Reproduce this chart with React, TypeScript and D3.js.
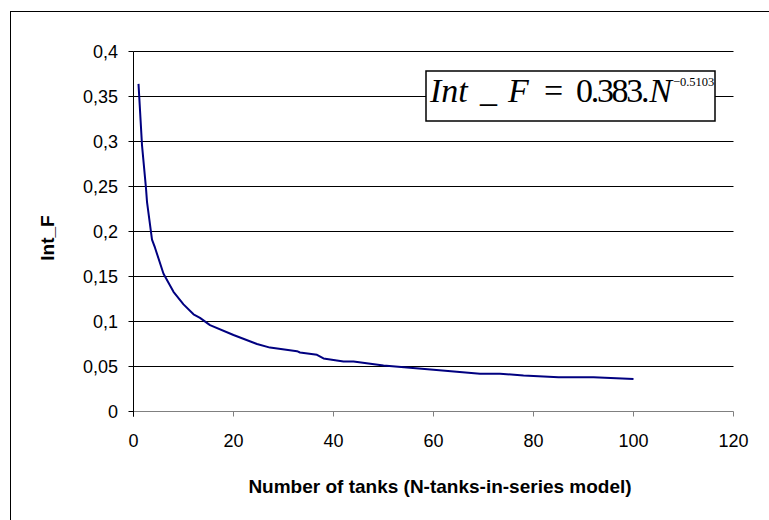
import React from "react";
import * as d3 from "d3";

const N_TANKS = [1, 1.7, 2.5, 2.7, 3.7, 4.3, 6, 8, 10, 12, 13.3, 15.3, 20, 24.7, 27.3, 32.7, 33.3, 36.7, 38, 42, 44, 50, 60, 69.3, 73.3, 78, 85, 92, 100];
const INT_F = [0.364, 0.296, 0.248, 0.233, 0.191, 0.182, 0.153, 0.133, 0.119, 0.108, 0.104, 0.096, 0.085, 0.075, 0.071, 0.067, 0.0656, 0.063, 0.059, 0.0556, 0.0556, 0.051, 0.0463, 0.042, 0.042, 0.04, 0.038, 0.038, 0.036];
const X_TICKS = [0, 20, 40, 60, 80, 100, 120];
const Y_TICKS = [0, 0.05, 0.1, 0.15, 0.2, 0.25, 0.3, 0.35, 0.4];
const X_TITLE = "Number of tanks (N-tanks-in-series model)";
const Y_TITLE = "Int_F";

const W = 769;
const H = 520;
const L = 133.5;
const R = 733.5;
const T = 51.5;
const B = 411.5;

export default function App() {
  const x = d3.scaleLinear().domain([0, 120]).range([L, R]);
  const y = d3.scaleLinear().domain([0, 0.4]).range([B, T]);
  const pts = N_TANKS.map((n, i) => [n, INT_F[i]] as [number, number]);
  const line = d3.line<[number, number]>().x((d) => x(d[0])).y((d) => y(d[1]));
  const fmt = (v: number) => (v === 0 ? "0" : String(+v.toFixed(2)).replace(".", ","));
  const sans = "'Liberation Sans', Arial, sans-serif";
  const serif = "'Liberation Serif', 'Times New Roman', serif";

  return (
    <div style={{ position: "fixed", left: 0, top: 0 }}>
      <svg width={W} height={H} style={{ display: "block", background: "#fff" }}>
        <rect x={10.5} y={11.5} width={900} height={700} fill="#fff" stroke="#000" strokeWidth={1} />
        {Y_TICKS.map((t) => (
          <g key={"y" + t}>
            {t > 0 && <line x1={L} x2={R} y1={y(t)} y2={y(t)} stroke="#000" strokeWidth={1} />}
            <line x1={L - 5} x2={L} y1={y(t)} y2={y(t)} stroke="#000" strokeWidth={1} />
            <text x={118} y={y(t)} dy="0.35em" textAnchor="end" fontFamily={sans} fontSize={18} fill="#000">
              {fmt(t)}
            </text>
          </g>
        ))}
        <line x1={L} x2={R} y1={B} y2={B} stroke="#808080" strokeWidth={1} />
        {X_TICKS.map((t) => (
          <g key={"x" + t}>
            <line x1={x(t)} x2={x(t)} y1={B} y2={B + 5} stroke={t === 0 ? "#000" : "#808080"} strokeWidth={1} />
            <text x={x(t)} y={447} textAnchor="middle" fontFamily={sans} fontSize={18} fill="#000">
              {t}
            </text>
          </g>
        ))}
        <line x1={L} x2={L} y1={T} y2={B + 5} stroke="#000" strokeWidth={1} />
        <path d={line(pts) || ""} fill="none" stroke="#000080" strokeWidth={2} strokeLinejoin="round" />
        <g>
          <rect x={426} y={71} width={289} height={50} fill="#fff" stroke="#000" strokeWidth={1.5} />
          <text x={430} y={102} fontFamily={serif} fontSize={34} fontStyle="italic" fill="#000">Int</text>
          <text x={480} y={102} fontFamily={serif} fontSize={34} fontStyle="italic" fill="#000">_</text>
          <text x={508} y={102} fontFamily={serif} fontSize={34} fontStyle="italic" fill="#000">F</text>
          <text x={544} y={102} fontFamily={serif} fontSize={34} fill="#000">=</text>
          <text x={576} y={102} fontFamily={serif} fontSize={34} fill="#000">
            <tspan letterSpacing={-2.3}>0.383.</tspan>
            <tspan fontStyle="italic" dx={2}>N</tspan>
            <tspan fontSize={12.5} dx={1} dy={-16}>−0.5103</tspan>
          </text>
        </g>
        <text x={440} y={493} textAnchor="middle" fontFamily={sans} fontSize={19} fontWeight="bold" fill="#000">
          {X_TITLE}
        </text>
        <text transform={`translate(54,238) rotate(-90)`} textAnchor="middle" fontFamily={sans} fontSize={19} fontWeight="bold" fill="#000">
          {Y_TITLE}
        </text>
      </svg>
    </div>
  );
}
